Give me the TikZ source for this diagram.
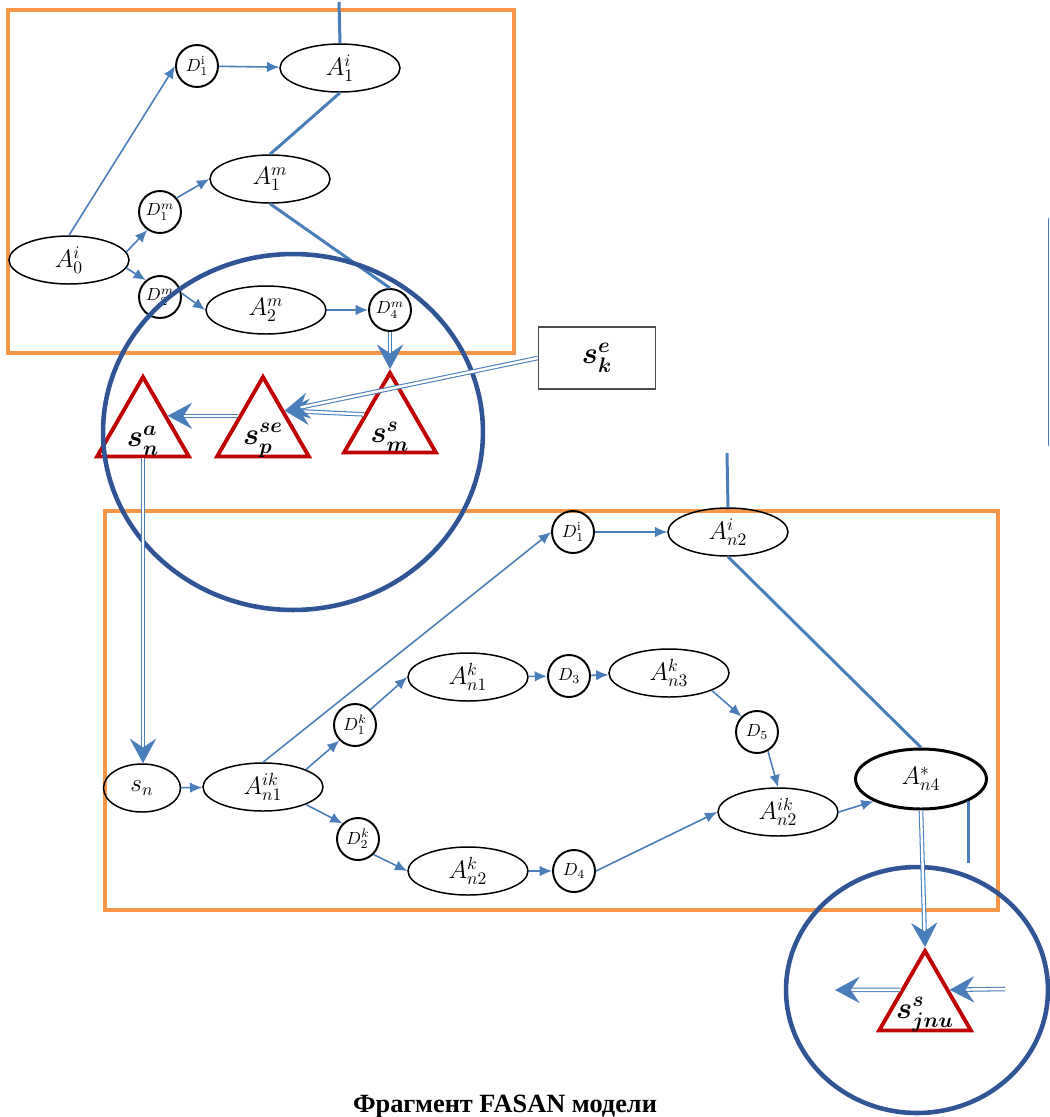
\documentclass[tikz,border=0pt]{standalone}
\usepackage{amsmath}
\usepackage{fontspec}
\newfontfamily\capfont{Liberation Serif}
\usetikzlibrary{shapes.geometric,arrows.meta,calc}

\definecolor{boxorange}{HTML}{F79646}
\definecolor{arcblue}{HTML}{4A7EBB}
\definecolor{zoneblue}{HTML}{2F5597}
\definecolor{sitred}{HTML}{C00000}

\begin{document}
\begin{tikzpicture}[x=0.02cm,y=-0.02cm,
  act/.style={ellipse,draw,line width=0.85pt,minimum width=2.4cm,minimum height=0.96cm,inner sep=0pt,font=\Large},
  dec/.style={circle,draw,line width=1.1pt,minimum size=0.84cm,inner sep=0pt,font=\normalsize},
  sit/.style={regular polygon,regular polygon sides=3,draw=sitred,line width=2.2pt,minimum size=2.12cm,inner sep=0pt},
  dart/.style={draw=arcblue,line width=0.9pt,-{Latex[length=7pt,width=6pt]}},
  link/.style={draw=arcblue,line width=1.7pt},
  flow/.style={draw=arcblue,double=white,double distance=1.4pt,line width=0.6pt,-{Stealth[length=14pt,width=15pt,inset=5pt]}},
  zone/.style={draw=zoneblue,line width=2.6pt},
  frame/.style={draw=boxorange,line width=2pt}]

\useasboundingbox (0,0) rectangle (1050,1117);

\draw [frame] (8,10) rectangle (514,353);
\draw [frame] (105,511) rectangle (998,910);

% upper block
\node [act] (a0) at (69,260) {$A_0^i$};
\node [dec] (d1i) at (197,66) {$D_1^{\mathrm{i}}$};
\node [act] (a1i) at (340,68) {$A_1^i$};
\node [act] (a1m) at (270,179) {$A_1^m$};
\node [dec] (d1m) at (160,212) {$D_1^m$};
\node [dec] (d2m) at (160,297) {$D_2^m$};
\node [act] (a2m) at (266,310) {$A_2^m$};
\node [dec] (d4m) at (390,310) {$D_4^m$};

\coordinate (topin) at (339,2);

\draw [dart] (a0.north) -- (d1i.west);
\draw [dart] (d1i) -- (a1i);
\draw [dart] (a0.8) -- (d1m.235);
\draw [dart] (a0.-8) -- (d2m.130);
\draw [dart] (d1m.40) -- (a1m.west);
\draw [dart] (d2m.10) -- (a2m.west);
\draw [dart] (a2m) -- (d4m);

\draw [link] (topin) -- (a1i.north);
\draw [link] (a1i.south) -- (a1m.north);
\draw [link] (a1m.south) -- (d4m.north);

% situations
\node [sit,label={[font=\LARGE,yshift=-6pt]center:$\boldsymbol{s_n^a}$}] (sna) at (143,430) {};
\node [sit,label={[font=\LARGE,yshift=-6pt]center:$\boldsymbol{s_p^{se}}$}] (spse) at (263,430) {};
\node [sit,label={[font=\LARGE,yshift=-6pt]center:$\boldsymbol{s_m^s}$}] (sms) at (390,426) {};
\node [draw=black!70,line width=0.8pt,minimum width=2.34cm,minimum height=1.24cm,font=\LARGE] (ske) at (597,358) {$\boldsymbol{s_k^e}$};

% lower block
\node [act,minimum width=1.54cm] (sn) at (142,788) {$s_n$};
\node [act] (ank1) at (263,787) {$A_{n1}^{ik}$};
\node [dec] (d1i2) at (573,532) {$D_1^{\mathrm{i}}$};
\node [act] (an2i) at (728,532) {$A_{n2}^i$};
\node [dec] (d1k) at (355,725) {$D_1^k$};
\node [act] (an1k) at (468,677) {$A_{n1}^k$};
\node [dec] (d3) at (569,676) {$D_3$};
\node [act] (an3k) at (669,673) {$A_{n3}^k$};
\node [dec] (d5) at (757,732) {$D_5$};
\node [act] (an2ik) at (778,812) {$A_{n2}^{ik}$};
\node [act,line width=1.7pt,minimum width=2.62cm,minimum height=1.2cm] (a4) at (921,779) {$A_{n4}^*$};
\node [dec] (d2k) at (358,839) {$D_2^k$};
\node [act] (an2k) at (468,871) {$A_{n2}^k$};
\node [dec] (d4) at (574,871) {$D_4$};

\node [sit,label={[font=\LARGE,yshift=-6pt]center:$\boldsymbol{s_{jnu}^s}$}] (sjnu) at (925,1004) {};

\coordinate (midin) at (727,453);
\coordinate (jin) at (1005,989);
\coordinate (jout) at (835,990);

\draw [dart] (sn) -- (ank1);
\draw [dart] (ank1.north) -- (d1i2.west);
\draw [dart] (d1i2) -- (an2i);
\draw [dart] (ank1.north east) -- (d1k.225);
\draw [dart] (d1k.45) -- (an1k.west);
\draw [dart] (an1k) -- (d3);
\draw [dart] (d3) -- (an3k);
\draw [dart] (an3k.south east) -- (d5.135);
\draw [dart] (d5.-60) -- (an2ik.north);
\draw [dart] (ank1.south east) -- (d2k.135);
\draw [dart] (d2k.-45) -- (an2k.west);
\draw [dart] (an2k) -- (d4);
\draw [dart] (d4.east) -- (an2ik.west);
\draw [dart] (an2ik.east) -- (a4.south west);

\draw [link] (midin) -- (an2i.north);
\draw [link] (an2i.south) -- (a4.north);
\draw [link] (a4.south east) -- +(0,62);

% zones
\draw [zone] (293,432) ellipse [x radius=3.8cm,y radius=3.56cm];
\draw [zone] (917,990) ellipse [x radius=2.62cm,y radius=2.46cm];

% flows between situations
\draw [flow] (d4m.south) -- (sms.corner 1);
\draw [flow] ($(sms.corner 1)!0.53!(sms.corner 2)$) -- ($(spse.corner 1)!0.44!(spse.corner 3)$);
\draw [flow] (ske.west) -- ($(spse.corner 1)!0.44!(spse.corner 3)$);
\draw [flow] ($(spse.corner 1)!0.5!(spse.corner 2)$) -- ($(sna.corner 1)!0.5!(sna.corner 3)$);
\draw [flow] (sna.south) -- (sna.south |- sn.north);
\draw [flow] (a4.south) -- (sjnu.corner 1);
\draw [flow] (jin) -- ($(sjnu.corner 1)!0.5!(sjnu.corner 3)$);
\draw [flow] ($(sjnu.corner 1)!0.5!(sjnu.corner 2)$) -- (jout);

\draw [arcblue,line width=0.6pt] (1048.5,218) -- (1048.5,446);

\node [font=\capfont\bfseries\fontsize{15}{18}\selectfont] (cap) at (505,1107) {Фрагмент FASAN модели};

\end{tikzpicture}
\end{document}
